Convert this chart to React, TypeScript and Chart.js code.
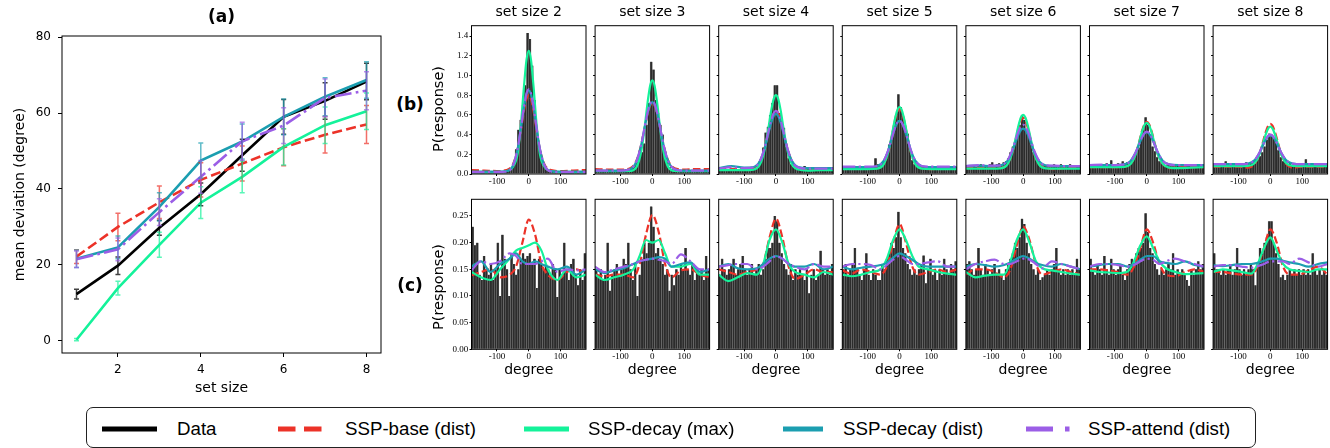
import React, { useEffect, useRef } from 'react';
import { Chart, registerables } from 'chart.js';

Chart.register(...registerables);

// ---------------- Panel (a) data ----------------
const SET_SIZES = [1, 2, 3, 4, 5, 6, 7, 8];
const A_X_TICKS = [2, 4, 6, 8];
const A_Y_TICKS = [0, 20, 40, 60, 80];

const DATA_MEAN = [12.3, 19.8, 29.8, 38.6, 48.9, 59.0, 63.2, 68.3];
const DATA_ERR = [1.3, 2.3, 2.0, 3.0, 4.2, 4.6, 4.8, 4.8];
const BASE_MEAN = [22.2, 30.0, 36.5, 42.4, 46.7, 51.0, 54.3, 57.0];
const BASE_ERR = [1.8, 3.6, 4.3, 4.5, 4.6, 4.9, 4.8, 5.0];
const DECAYMAX_MEAN = [0.3, 13.9, 25.3, 36.4, 43.2, 51.1, 56.8, 60.5];
const DECAYMAX_ERR = [0.3, 1.8, 3.3, 4.2, 4.2, 4.8, 4.8, 4.8];
const DECAYDIST_MEAN = [21.6, 24.6, 35.3, 47.5, 52.5, 59.0, 64.3, 68.7];
const DECAYDIST_ERR = [2.3, 3.0, 3.7, 4.6, 4.6, 4.7, 5.0, 4.8];
const ATTEND_MEAN = [21.5, 24.1, 33.9, 43.2, 52.6, 56.7, 64.0, 65.9];
const ATTEND_ERR = [2.2, 3.0, 3.5, 4.3, 5.0, 4.7, 5.0, 5.0];

// ---------------- Panels (b)/(c) shared ----------------
const PANEL_SET_SIZES = [2, 3, 4, 5, 6, 7, 8];
const DEG_TICKS = [-100, 0, 100];
const B_Y_TICKS = [0, 0.2, 0.4, 0.6, 0.8, 1.0, 1.2, 1.4];
const C_Y_TICKS = [0, 0.05, 0.1, 0.15, 0.2, 0.25];

const BIN_CENTERS = [
  -176.4, -169.2, -162, -154.8, -147.6, -140.4, -133.2, -126, -118.8, -111.6,
  -104.4, -97.2, -90, -82.8, -75.6, -68.4, -61.2, -54, -46.8, -39.6,
  -32.4, -25.2, -18, -10.8, -3.6, 3.6, 10.8, 18, 25.2, 32.4,
  39.6, 46.8, 54, 61.2, 68.4, 75.6, 82.8, 90, 97.2, 104.4,
  111.6, 118.8, 126, 133.2, 140.4, 147.6, 154.8, 162, 169.2, 176.4,
];

// curve sample positions (degrees)
const GB = [-180, -140, -100, -70, -50, -35, -25, -15, -7, 0, 7, 15, 25, 35, 50, 70, 100, 140, 180];
const GC = [-180, -150, -120, -90, -60, -40, -20, 0, 20, 40, 60, 90, 120, 150, 180];

// ---------- row (b) histograms ----------
const b2Hist = [0.02,0.01,0.02,0.015,0.01,0.02,0.015,0.02,0.01,0.015, 0.02,0.02,0.015,0.02,0.025,0.03,0.035,0.05,0.1,0.25, 0.45,0.55,0.7,0.9,1.43,1.37,1.1,0.75,0.45,0.28, 0.15,0.08,0.05,0.04,0.03,0.025,0.02,0.02,0.015,0.02, 0.02,0.015,0.01,0.02,0.015,0.02,0.01,0.015,0.02,0.01];
const b3Hist = [0.03,0.02,0.03,0.02,0.03,0.02,0.03,0.03,0.02,0.03, 0.04,0.03,0.04,0.05,0.05,0.06,0.07,0.09,0.12,0.17, 0.22,0.31,0.5,0.72,1.14,1.06,0.75,0.62,0.5,0.4, 0.2,0.12,0.07,0.05,0.04,0.04,0.03,0.03,0.04,0.03, 0.02,0.03,0.03,0.04,0.03,0.02,0.03,0.04,0.03,0.02];
const b4Hist = [0.04,0.03,0.04,0.03,0.05,0.04,0.03,0.04,0.05,0.04, 0.03,0.05,0.04,0.06,0.05,0.05,0.06,0.08,0.14,0.27, 0.42,0.48,0.6,0.72,0.9,0.9,0.62,0.5,0.47,0.28, 0.16,0.1,0.07,0.06,0.05,0.05,0.06,0.08,0.06,0.05, 0.04,0.05,0.04,0.03,0.05,0.04,0.03,0.04,0.05,0.04];
const b5Hist = [0.06,0.07,0.05,0.06,0.07,0.06,0.05,0.07,0.08,0.06, 0.07,0.06,0.08,0.07,0.16,0.1,0.08,0.12,0.12,0.2, 0.3,0.36,0.45,0.6,0.81,0.68,0.58,0.47,0.41,0.25, 0.14,0.1,0.09,0.07,0.08,0.07,0.06,0.07,0.06,0.08, 0.07,0.06,0.07,0.08,0.06,0.07,0.06,0.07,0.06,0.07];
const b6Hist = [0.08,0.07,0.09,0.08,0.07,0.08,0.1,0.09,0.08,0.09, 0.1,0.12,0.09,0.1,0.11,0.1,0.12,0.13,0.16,0.22, 0.28,0.33,0.4,0.5,0.6,0.55,0.45,0.4,0.3,0.22, 0.15,0.12,0.1,0.09,0.08,0.09,0.08,0.07,0.1,0.09, 0.08,0.1,0.09,0.08,0.09,0.1,0.08,0.09,0.08,0.07];
const b7Hist = [0.08,0.1,0.09,0.1,0.08,0.1,0.09,0.11,0.1,0.14, 0.1,0.09,0.11,0.1,0.13,0.11,0.12,0.12,0.15,0.17, 0.22,0.27,0.35,0.45,0.575,0.5,0.4,0.28,0.23,0.17, 0.13,0.11,0.1,0.09,0.1,0.08,0.09,0.1,0.09,0.08, 0.1,0.09,0.08,0.1,0.09,0.08,0.1,0.09,0.1,0.09];
const b8Hist = [0.1,0.09,0.1,0.11,0.09,0.13,0.1,0.09,0.1,0.11, 0.1,0.09,0.1,0.11,0.12,0.1,0.11,0.12,0.14,0.15, 0.18,0.22,0.28,0.35,0.41,0.4,0.36,0.33,0.24,0.17, 0.13,0.12,0.1,0.11,0.09,0.1,0.11,0.1,0.09,0.1, 0.15,0.1,0.09,0.1,0.11,0.09,0.1,0.11,0.1,0.09];

// ---------- row (b) model curves (on GB) ----------
const b2Base = [0.04,0.035,0.03,0.04,0.095,0.25,0.436,0.642,0.763,0.8,0.763,0.642,0.436,0.25,0.095,0.04,0.03,0.035,0.04];
const b2DecayMax = [0.02,0.02,0.02,0.03,0.07,0.206,0.489,0.89,1.16,1.25,1.16,0.89,0.489,0.206,0.07,0.03,0.02,0.02,0.02];
const b2DecayDist = [0.025,0.025,0.025,0.028,0.083,0.254,0.455,0.68,0.81,0.85,0.81,0.68,0.455,0.254,0.083,0.028,0.025,0.025,0.025];
const b2Attend = [0.02,0.02,0.02,0.025,0.084,0.257,0.46,0.686,0.819,0.86,0.819,0.686,0.46,0.257,0.084,0.025,0.02,0.02,0.02];

const b3Base = [0.05,0.045,0.045,0.058,0.136,0.298,0.455,0.609,0.694,0.72,0.694,0.609,0.455,0.298,0.136,0.058,0.045,0.05,0.05];
const b3DecayMax = [0.03,0.03,0.03,0.032,0.07,0.229,0.451,0.725,0.896,0.95,0.896,0.725,0.451,0.229,0.07,0.032,0.03,0.03,0.03];
const b3DecayDist = [0.035,0.035,0.035,0.049,0.128,0.295,0.457,0.616,0.704,0.73,0.704,0.616,0.457,0.295,0.128,0.049,0.035,0.035,0.035];
const b3Attend = [0.035,0.035,0.035,0.049,0.13,0.299,0.463,0.624,0.713,0.74,0.713,0.624,0.463,0.299,0.13,0.049,0.035,0.035,0.035];

const b4Base = [0.05,0.05,0.05,0.062,0.13,0.271,0.408,0.543,0.618,0.64,0.618,0.543,0.408,0.271,0.13,0.062,0.05,0.05,0.05];
const b4DecayMax = [0.04,0.04,0.04,0.045,0.098,0.254,0.438,0.643,0.763,0.8,0.763,0.643,0.438,0.254,0.098,0.045,0.035,0.04,0.04];
const b4DecayDist = [0.06,0.08,0.065,0.071,0.134,0.266,0.394,0.519,0.589,0.61,0.589,0.519,0.394,0.266,0.134,0.071,0.06,0.06,0.06];
const b4Attend = [0.055,0.07,0.06,0.067,0.134,0.274,0.41,0.543,0.618,0.64,0.618,0.543,0.41,0.274,0.134,0.067,0.055,0.055,0.055];

const b5Base = [0.055,0.055,0.055,0.059,0.101,0.226,0.372,0.535,0.63,0.66,0.63,0.535,0.372,0.226,0.101,0.059,0.05,0.055,0.055];
const b5DecayMax = [0.05,0.05,0.05,0.054,0.098,0.228,0.38,0.55,0.649,0.68,0.649,0.55,0.38,0.228,0.098,0.054,0.05,0.05,0.05];
const b5DecayDist = [0.07,0.07,0.07,0.079,0.133,0.246,0.355,0.462,0.522,0.54,0.522,0.462,0.355,0.246,0.133,0.079,0.07,0.07,0.07];
const b5Attend = [0.075,0.075,0.075,0.081,0.135,0.248,0.357,0.463,0.522,0.54,0.522,0.463,0.357,0.248,0.135,0.081,0.075,0.075,0.075];

const b6Base = [0.06,0.06,0.06,0.063,0.099,0.204,0.327,0.464,0.545,0.57,0.545,0.464,0.327,0.204,0.099,0.063,0.05,0.06,0.06];
const b6DecayMax = [0.055,0.055,0.055,0.058,0.096,0.209,0.341,0.487,0.573,0.6,0.573,0.487,0.341,0.209,0.096,0.058,0.055,0.055,0.055];
const b6DecayDist = [0.08,0.085,0.08,0.088,0.131,0.223,0.311,0.397,0.446,0.46,0.446,0.397,0.311,0.223,0.131,0.088,0.08,0.08,0.08];
const b6Attend = [0.08,0.09,0.085,0.088,0.137,0.238,0.335,0.431,0.484,0.5,0.484,0.431,0.335,0.238,0.137,0.088,0.085,0.08,0.08];

const b7Base = [0.07,0.07,0.07,0.073,0.105,0.2,0.311,0.435,0.507,0.53,0.507,0.435,0.311,0.2,0.105,0.06,0.07,0.07,0.07];
const b7DecayMax = [0.07,0.07,0.07,0.073,0.104,0.197,0.306,0.427,0.498,0.52,0.498,0.427,0.306,0.197,0.104,0.065,0.06,0.065,0.07];
const b7DecayDist = [0.09,0.09,0.09,0.097,0.136,0.218,0.294,0.37,0.412,0.425,0.412,0.37,0.294,0.218,0.136,0.097,0.09,0.09,0.09];
const b7Attend = [0.09,0.095,0.09,0.097,0.136,0.218,0.296,0.374,0.417,0.43,0.417,0.374,0.296,0.218,0.136,0.097,0.09,0.09,0.09];

const b8Base = [0.075,0.075,0.075,0.065,0.1,0.198,0.303,0.42,0.489,0.51,0.489,0.42,0.303,0.198,0.1,0.065,0.075,0.075,0.075];
const b8DecayMax = [0.08,0.08,0.08,0.082,0.11,0.193,0.29,0.397,0.46,0.48,0.46,0.397,0.29,0.193,0.11,0.082,0.08,0.08,0.08];
const b8DecayDist = [0.1,0.1,0.1,0.106,0.138,0.21,0.278,0.345,0.382,0.39,0.382,0.345,0.278,0.21,0.138,0.106,0.1,0.1,0.1];
const b8Attend = [0.1,0.1,0.1,0.106,0.14,0.213,0.282,0.35,0.389,0.4,0.389,0.35,0.282,0.213,0.14,0.106,0.1,0.1,0.1];

// ---------- row (c) histograms ----------
const c2Hist = [0.23,0.195,0.2,0.14,0.13,0.175,0.15,0.14,0.16,0.13, 0.15,0.2,0.1,0.215,0.17,0.15,0.1,0.18,0.16,0.14, 0.15,0.17,0.18,0.17,0.175,0.18,0.16,0.17,0.115,0.17, 0.16,0.15,0.16,0.15,0.14,0.16,0.15,0.098,0.15,0.14, 0.2,0.15,0.13,0.16,0.17,0.14,0.12,0.15,0.13,0.18];
const c3Hist = [0.15,0.14,0.15,0.13,0.14,0.2,0.11,0.14,0.15,0.16, 0.14,0.15,0.17,0.16,0.2,0.15,0.13,0.16,0.1,0.14, 0.17,0.2,0.18,0.2,0.268,0.23,0.18,0.19,0.17,0.16, 0.14,0.15,0.11,0.14,0.12,0.15,0.14,0.16,0.15,0.19, 0.15,0.14,0.16,0.13,0.15,0.14,0.15,0.13,0.175,0.15];
const c4Hist = [0.14,0.17,0.15,0.14,0.15,0.16,0.17,0.14,0.15,0.16, 0.175,0.15,0.14,0.15,0.16,0.14,0.15,0.16,0.14,0.15, 0.17,0.19,0.19,0.2,0.25,0.24,0.2,0.18,0.16,0.15, 0.14,0.16,0.13,0.15,0.14,0.15,0.14,0.13,0.15,0.105, 0.14,0.15,0.13,0.14,0.185,0.15,0.14,0.15,0.14,0.16];
const c5Hist = [0.15,0.16,0.14,0.15,0.16,0.19,0.15,0.14,0.13,0.15, 0.18,0.14,0.13,0.15,0.14,0.13,0.13,0.16,0.15,0.17, 0.18,0.2,0.19,0.21,0.258,0.21,0.19,0.18,0.16,0.15, 0.14,0.15,0.14,0.15,0.16,0.176,0.124,0.15,0.17,0.14, 0.15,0.13,0.15,0.14,0.17,0.15,0.14,0.16,0.15,0.165];
const c6Hist = [0.16,0.165,0.15,0.14,0.15,0.19,0.15,0.14,0.16,0.15, 0.14,0.15,0.16,0.14,0.15,0.14,0.13,0.15,0.16,0.17, 0.18,0.2,0.19,0.21,0.245,0.235,0.2,0.18,0.16,0.15, 0.14,0.15,0.13,0.135,0.14,0.15,0.14,0.15,0.16,0.19, 0.15,0.14,0.15,0.14,0.15,0.14,0.15,0.14,0.17,0.15];
const c7Hist = [0.17,0.15,0.14,0.16,0.15,0.14,0.175,0.15,0.14,0.17, 0.15,0.14,0.15,0.16,0.14,0.13,0.15,0.16,0.17,0.16, 0.18,0.19,0.19,0.2,0.255,0.22,0.19,0.18,0.16,0.15, 0.14,0.15,0.14,0.15,0.16,0.15,0.18,0.14,0.15,0.14, 0.15,0.14,0.13,0.119,0.15,0.14,0.15,0.165,0.15,0.16];
const c8Hist = [0.18,0.15,0.15,0.14,0.15,0.14,0.15,0.16,0.14,0.15, 0.19,0.15,0.14,0.15,0.14,0.15,0.16,0.15,0.12,0.16, 0.19,0.18,0.2,0.21,0.24,0.24,0.2,0.18,0.16,0.135, 0.14,0.13,0.14,0.15,0.14,0.15,0.14,0.15,0.14,0.15, 0.14,0.15,0.14,0.18,0.15,0.14,0.15,0.14,0.15,0.14];

// ---------- row (c) model curves (on GC) ----------
const c2Base = [0.139,0.145,0.15,0.135,0.14,0.155,0.2,0.243,0.215,0.16,0.14,0.13,0.145,0.15,0.14];
const c2DecayMax = [0.145,0.135,0.13,0.15,0.17,0.185,0.19,0.195,0.2,0.185,0.15,0.13,0.15,0.135,0.14];
const c2DecayDist = [0.155,0.165,0.145,0.16,0.17,0.18,0.165,0.16,0.165,0.16,0.155,0.15,0.155,0.14,0.15];
const c2Attend = [0.148,0.165,0.16,0.165,0.18,0.175,0.16,0.16,0.16,0.165,0.17,0.145,0.15,0.148,0.15];

const c3Base = [0.14,0.137,0.14,0.14,0.135,0.16,0.215,0.252,0.22,0.16,0.135,0.148,0.15,0.14,0.135];
const c3DecayMax = [0.14,0.13,0.135,0.14,0.15,0.175,0.205,0.2,0.205,0.18,0.155,0.155,0.16,0.14,0.14];
const c3DecayDist = [0.15,0.143,0.148,0.152,0.16,0.165,0.168,0.17,0.173,0.17,0.155,0.16,0.163,0.145,0.15];
const c3Attend = [0.155,0.145,0.15,0.155,0.16,0.165,0.168,0.17,0.168,0.165,0.16,0.178,0.165,0.15,0.15];

const c4Base = [0.15,0.145,0.14,0.145,0.15,0.16,0.21,0.245,0.21,0.155,0.132,0.14,0.15,0.145,0.145];
const c4DecayMax = [0.14,0.128,0.135,0.143,0.14,0.16,0.205,0.225,0.2,0.16,0.145,0.14,0.135,0.145,0.14];
const c4DecayDist = [0.155,0.16,0.152,0.15,0.152,0.16,0.17,0.175,0.17,0.16,0.155,0.155,0.16,0.15,0.155];
const c4Attend = [0.155,0.158,0.16,0.16,0.15,0.155,0.165,0.175,0.17,0.16,0.155,0.15,0.16,0.155,0.155];

const c5Base = [0.148,0.142,0.15,0.145,0.14,0.155,0.2,0.235,0.2,0.155,0.14,0.145,0.15,0.145,0.15];
const c5DecayMax = [0.14,0.137,0.14,0.145,0.15,0.17,0.205,0.225,0.205,0.175,0.155,0.15,0.145,0.142,0.14];
const c5DecayDist = [0.155,0.15,0.153,0.155,0.158,0.162,0.172,0.18,0.175,0.168,0.16,0.155,0.155,0.155,0.155];
const c5Attend = [0.155,0.16,0.16,0.158,0.15,0.158,0.168,0.175,0.168,0.16,0.16,0.163,0.165,0.155,0.155];

const c6Base = [0.14,0.15,0.15,0.145,0.135,0.15,0.195,0.23,0.205,0.16,0.14,0.145,0.15,0.145,0.14];
const c6DecayMax = [0.145,0.135,0.138,0.14,0.14,0.165,0.205,0.225,0.2,0.165,0.152,0.148,0.145,0.142,0.14];
const c6DecayDist = [0.155,0.16,0.158,0.155,0.158,0.163,0.17,0.175,0.17,0.162,0.158,0.155,0.16,0.155,0.15];
const c6Attend = [0.15,0.16,0.165,0.168,0.16,0.16,0.165,0.17,0.168,0.16,0.152,0.165,0.16,0.155,0.15];

const c7Base = [0.15,0.15,0.148,0.145,0.14,0.155,0.19,0.225,0.2,0.16,0.14,0.137,0.145,0.15,0.145];
const c7DecayMax = [0.148,0.145,0.144,0.143,0.146,0.165,0.195,0.212,0.19,0.165,0.152,0.145,0.141,0.142,0.143];
const c7DecayDist = [0.155,0.158,0.16,0.16,0.155,0.16,0.168,0.175,0.175,0.165,0.162,0.16,0.165,0.158,0.155];
const c7Attend = [0.155,0.16,0.16,0.158,0.155,0.158,0.165,0.17,0.168,0.16,0.165,0.17,0.165,0.16,0.155];

const c8Base = [0.145,0.145,0.142,0.14,0.14,0.155,0.19,0.225,0.2,0.155,0.14,0.14,0.148,0.155,0.14];
const c8DecayMax = [0.145,0.15,0.148,0.145,0.142,0.16,0.19,0.21,0.185,0.16,0.15,0.147,0.145,0.15,0.15];
const c8DecayDist = [0.158,0.156,0.158,0.16,0.16,0.162,0.166,0.17,0.17,0.166,0.163,0.16,0.155,0.16,0.163];
const c8Attend = [0.155,0.158,0.158,0.155,0.153,0.156,0.16,0.165,0.165,0.165,0.16,0.17,0.163,0.155,0.16];

const B_HISTS = [b2Hist, b3Hist, b4Hist, b5Hist, b6Hist, b7Hist, b8Hist];
const C_HISTS = [c2Hist, c3Hist, c4Hist, c5Hist, c6Hist, c7Hist, c8Hist];
const B_CURVES = [
  [b2Base, b2DecayMax, b2DecayDist, b2Attend],
  [b3Base, b3DecayMax, b3DecayDist, b3Attend],
  [b4Base, b4DecayMax, b4DecayDist, b4Attend],
  [b5Base, b5DecayMax, b5DecayDist, b5Attend],
  [b6Base, b6DecayMax, b6DecayDist, b6Attend],
  [b7Base, b7DecayMax, b7DecayDist, b7Attend],
  [b8Base, b8DecayMax, b8DecayDist, b8Attend],
];
const C_CURVES = [
  [c2Base, c2DecayMax, c2DecayDist, c2Attend],
  [c3Base, c3DecayMax, c3DecayDist, c3Attend],
  [c4Base, c4DecayMax, c4DecayDist, c4Attend],
  [c5Base, c5DecayMax, c5DecayDist, c5Attend],
  [c6Base, c6DecayMax, c6DecayDist, c6Attend],
  [c7Base, c7DecayMax, c7DecayDist, c7Attend],
  [c8Base, c8DecayMax, c8DecayDist, c8Attend],
];

// ---------------- styles ----------------
const SANS = "'DejaVu Sans', sans-serif";
const SERIF = "'Liberation Serif', serif";
const LEG_FONT = "'Liberation Sans', sans-serif";
const C_DATA = '#000000';
const C_BASE = '#ec3228';
const C_DMAX = '#14f29a';
const C_DDIST = '#1b9eb0';
const C_ATT = '#9b5ee6';
const E_DATA = 'rgba(0,0,0,0.75)';
const E_BASE = 'rgba(236,50,40,0.7)';
const E_DMAX = 'rgba(20,242,154,0.7)';
const E_DDIST = 'rgba(27,158,176,0.7)';
const E_ATT = 'rgba(155,94,230,0.7)';
const BAR_FILL = '#2c2c2c';
const BAR_EDGE = '#7c7c7c';

const framePlugin = {
  id: 'frame',
  afterDraw(chart: any) {
    const { ctx, chartArea: a } = chart;
    ctx.save();
    ctx.strokeStyle = '#000';
    ctx.lineWidth = 1;
    ctx.strokeRect(a.left, a.top, a.right - a.left, a.bottom - a.top);
    ctx.restore();
  },
};

const errorBarPlugin = {
  id: 'errorBars',
  afterDatasetsDraw(chart: any) {
    const { ctx } = chart;
    const xs = chart.scales.x;
    const ys = chart.scales.y;
    const list = chart.data.datasets.slice().reverse();
    list.forEach((d: any) => {
      if (!d.errors) return;
      ctx.save();
      ctx.strokeStyle = d.errorColor;
      ctx.lineWidth = 1.5;
      d.data.forEach((p: any, j: number) => {
        const e = d.errors[j];
        const x = xs.getPixelForValue(p.x);
        const y1 = ys.getPixelForValue(p.y - e);
        const y2 = ys.getPixelForValue(p.y + e);
        ctx.beginPath();
        ctx.moveTo(x, y1);
        ctx.lineTo(x, y2);
        ctx.moveTo(x - 2.5, y1);
        ctx.lineTo(x + 2.5, y1);
        ctx.moveTo(x - 2.5, y2);
        ctx.lineTo(x + 2.5, y2);
        ctx.stroke();
      });
      ctx.restore();
    });
  },
};

function ChartCanvas({ left, top, width, height, makeConfig }: any) {
  const ref = useRef<HTMLCanvasElement>(null);
  useEffect(() => {
    const chart = new Chart(ref.current as HTMLCanvasElement, makeConfig());
    return () => chart.destroy();
  }, []);
  return (
    <canvas
      ref={ref}
      width={width}
      height={height}
      style={{ position: 'absolute', left, top, width, height }}
    />
  );
}

// ---------------- panel (a) ----------------
function lineA(label: string, means: number[], errs: number[], color: string, ecolor: string, dash: number[], order: number) {
  return {
    type: 'line',
    label,
    data: SET_SIZES.map((x, i) => ({ x, y: means[i] })),
    borderColor: color,
    backgroundColor: color,
    borderWidth: 2.6,
    borderDash: dash,
    pointRadius: 0,
    fill: false,
    tension: 0,
    order,
    errors: errs,
    errorColor: ecolor,
  };
}

function makePanelA() {
  return {
    type: 'line',
    data: {
      datasets: [
        lineA('SSP-attend (dist)', ATTEND_MEAN, ATTEND_ERR, C_ATT, E_ATT, [17, 4.3, 2.7, 4.3], 0),
        lineA('SSP-decay (dist)', DECAYDIST_MEAN, DECAYDIST_ERR, C_DDIST, E_DDIST, [], 1),
        lineA('SSP-decay (max)', DECAYMAX_MEAN, DECAYMAX_ERR, C_DMAX, E_DMAX, [], 2),
        lineA('SSP-base (dist)', BASE_MEAN, BASE_ERR, C_BASE, E_BASE, [10, 4.3], 3),
        lineA('Data', DATA_MEAN, DATA_ERR, C_DATA, E_DATA, [], 4),
      ],
    },
    options: {
      responsive: false,
      animation: false,
      events: [],
      layout: { padding: { left: 0, right: 11, top: 0, bottom: 0 }, autoPadding: false },
      plugins: {
        legend: { display: false },
        tooltip: { enabled: false },
        title: {
          display: true,
          text: '(a)',
          fullSize: false,
          color: '#000',
          font: { family: SANS, size: 17, weight: 'bold' },
          padding: { top: 7, bottom: 8.6 },
        },
      },
      scales: {
        x: {
          type: 'linear',
          min: 0.65,
          max: 8.35,
          afterBuildTicks: (ax: any) => { ax.ticks = A_X_TICKS.map((v) => ({ value: v })); },
          afterFit: (ax: any) => { ax.height = 47; },
          ticks: { color: '#000', font: { family: SANS, size: 12 }, padding: 6, maxRotation: 0, autoSkip: false },
          grid: { display: true, drawOnChartArea: false, drawTicks: true, tickLength: 4, color: '#000' },
          border: { display: false },
          title: { display: true, text: 'set size', color: '#000', font: { family: SANS, size: 14 }, padding: { top: 0, bottom: 3 } },
        },
        y: {
          type: 'linear',
          min: -3.2,
          max: 80.3,
          afterBuildTicks: (ax: any) => { ax.ticks = A_Y_TICKS.map((v) => ({ value: v })); },
          afterFit: (ax: any) => { ax.width = 62; },
          ticks: { color: '#000', font: { family: SANS, size: 12 }, padding: 7 },
          grid: { display: true, drawOnChartArea: false, drawTicks: true, tickLength: 4, color: '#000' },
          border: { display: false },
          title: { display: true, text: 'mean deviation (degree)', color: '#000', font: { family: SANS, size: 14 }, padding: { top: 11.6, bottom: 0 } },
        },
      },
    },
    plugins: [framePlugin, errorBarPlugin],
  };
}

// ---------------- panels (b)/(c) ----------------
function curve(grid: number[], vals: number[], color: string, dash: number[], order: number) {
  return {
    type: 'line',
    data: grid.map((x, i) => ({ x, y: vals[i] })),
    borderColor: color,
    borderWidth: 2.2,
    borderDash: dash,
    pointRadius: 0,
    fill: false,
    cubicInterpolationMode: 'monotone',
    order,
  };
}

const COL_LEFTS = [471.5, 595.1, 718.7, 842.3, 965.9, 1089.5, 1213.1];
const PLOT_W = 114.5;

function smallGeom(row: string, col: number) {
  const L = COL_LEFTS[col];
  const left = Math.floor(L - 30);
  const yw = L - left;
  const width = Math.ceil(yw + PLOT_W + 5);
  const padRight = width - yw - PLOT_W;
  const top = row === 'b' ? 0 : 190;
  const height = row === 'b' ? 194 : 195;
  return { left, top, width, height, yw, padRight };
}

function makeSmall(row: string, col: number) {
  const isB = row === 'b';
  const g = smallGeom(row, col);
  const hist = isB ? B_HISTS[col] : C_HISTS[col];
  const grid = isB ? GB : GC;
  const cv = isB ? B_CURVES[col] : C_CURVES[col];
  const yTicks = isB ? B_Y_TICKS : C_Y_TICKS;
  return {
    type: 'bar',
    data: {
      datasets: [
        curve(grid, cv[3], C_ATT, [13, 3.4, 2.2, 3.4], 0),
        curve(grid, cv[2], C_DDIST, [], 1),
        curve(grid, cv[1], C_DMAX, [], 2),
        curve(grid, cv[0], C_BASE, [7.5, 3.3], 3),
        {
          type: 'bar',
          data: BIN_CENTERS.map((x, i) => ({ x, y: hist[i] })),
          backgroundColor: BAR_FILL,
          borderColor: BAR_EDGE,
          borderWidth: { left: 0.5, right: 0.5, top: 0, bottom: 0 },
          borderSkipped: false,
          barPercentage: 1,
          categoryPercentage: 1,
          order: 10,
        },
      ],
    },
    options: {
      responsive: false,
      animation: false,
      events: [],
      layout: { padding: { left: 0, right: g.padRight, top: isB ? 0 : 9.3, bottom: 0 }, autoPadding: false },
      plugins: {
        legend: { display: false },
        tooltip: { enabled: false },
        title: {
          display: isB,
          text: 'set size ' + PANEL_SET_SIZES[col],
          fullSize: false,
          color: '#000',
          font: { family: SANS, size: 14, weight: 'normal' },
          padding: { top: 4.3, bottom: 4.6 },
        },
      },
      scales: {
        x: {
          type: 'linear',
          min: -180,
          max: 180,
          offset: false,
          afterBuildTicks: (ax: any) => { ax.ticks = DEG_TICKS.map((v) => ({ value: v })); },
          afterFit: (ax: any) => { ax.height = isB ? 20 : 35.7; },
          ticks: { color: '#000', font: { family: SERIF, size: 9 }, padding: 0, maxRotation: 0, autoSkip: false, callback: (v: any) => String(v) },
          grid: { display: true, offset: false, drawOnChartArea: false, drawTicks: true, tickLength: 2, color: '#000' },
          border: { display: false },
          title: { display: !isB, text: 'degree', color: '#000', font: { family: SANS, size: 14 }, padding: { top: 0, bottom: 6.6 } },
        },
        y: {
          type: 'linear',
          min: 0,
          max: isB ? 1.505 : 0.2813,
          afterBuildTicks: (ax: any) => { ax.ticks = yTicks.map((v) => ({ value: v })); },
          afterFit: (ax: any) => { ax.width = g.yw; },
          ticks: {
            color: '#000',
            font: { family: SERIF, size: 9 },
            padding: 1.3,
            callback: (v: any) => (col === 0 ? Number(v).toFixed(isB ? 1 : 2) : ''),
          },
          grid: { display: true, drawOnChartArea: false, drawTicks: true, tickLength: 2, color: '#000' },
          border: { display: false },
        },
      },
    },
    plugins: [framePlugin],
  };
}

function SmallPanel({ row, col }: any) {
  const g = smallGeom(row, col);
  return <ChartCanvas left={g.left} top={g.top} width={g.width} height={g.height} makeConfig={() => makeSmall(row, col)} />;
}

// ---------------- legend ----------------
const LEGEND_LABELS = ['Data', 'SSP-base (dist)', 'SSP-decay (max)', 'SSP-decay (dist)', 'SSP-attend (dist)'];
const LEGEND_COLORS = [C_DATA, C_BASE, C_DMAX, C_DDIST, C_ATT];
const LEGEND_DASH = ['', '17.5 8.5', '', '', '27 12 4.5 12'];
const LEGEND_LINE_X = [102, 278, 524, 783, 1026];
const LEGEND_LINE_W = [55, 44, 45, 40, 44];
const LEGEND_TEXT_X = [177, 345, 588, 843, 1088];
const LEG_LEFT = 86;
const LEG_TOP = 407;

function Legend() {
  return (
    <div style={{ position: 'absolute', left: LEG_LEFT, top: LEG_TOP, width: 1170, height: 41, boxSizing: 'border-box', border: '1px solid #222', borderRadius: 7, background: '#fff' }}>
      {LEGEND_LABELS.map((lab, i) => (
        <React.Fragment key={lab}>
          <svg width={LEGEND_LINE_W[i]} height={10} style={{ position: 'absolute', left: LEGEND_LINE_X[i] - LEG_LEFT - 1, top: 428.5 - LEG_TOP - 1 - 5 }}>
            <line x1={0} y1={5} x2={LEGEND_LINE_W[i]} y2={5} stroke={LEGEND_COLORS[i]} strokeWidth={5} strokeDasharray={LEGEND_DASH[i] || undefined} />
          </svg>
          <div style={{ position: 'absolute', left: LEGEND_TEXT_X[i] - LEG_LEFT - 1, top: 428.9 - LEG_TOP - 1, transform: 'translateY(-50%)', fontFamily: LEG_FONT, fontSize: 18.7, lineHeight: 1, whiteSpace: 'nowrap', color: '#000' }}>
            {lab}
          </div>
        </React.Fragment>
      ))}
    </div>
  );
}

const labelStyle = (x: number, y: number, extra: any) => ({
  position: 'absolute' as const,
  left: x,
  top: y,
  whiteSpace: 'nowrap' as const,
  color: '#000',
  fontFamily: SANS,
  lineHeight: 1,
  ...extra,
});

export default function App() {
  const cols = [0, 1, 2, 3, 4, 5, 6];
  return (
    <div style={{ position: 'absolute', left: 0, top: 0, width: 1330, height: 448, background: '#fff', overflow: 'hidden' }}>
      <ChartCanvas left={0} top={0} width={392} height={400} makeConfig={makePanelA} />
      {cols.map((c) => <SmallPanel key={'b' + c} row="b" col={c} />)}
      {cols.map((c) => <SmallPanel key={'c' + c} row="c" col={c} />)}
      <div style={labelStyle(410, 103.5, { transform: 'translate(-50%,-50%)', fontSize: 17, fontWeight: 'bold' })}>(b)</div>
      <div style={labelStyle(438, 108.5, { transform: 'translate(-50%,-50%) rotate(-90deg)', fontSize: 14.5 })}>P(response)</div>
      <div style={labelStyle(410, 284.5, { transform: 'translate(-50%,-50%)', fontSize: 17, fontWeight: 'bold' })}>(c)</div>
      <div style={labelStyle(438, 286.7, { transform: 'translate(-50%,-50%) rotate(-90deg)', fontSize: 14.5 })}>P(response)</div>
      <Legend />
    </div>
  );
}
